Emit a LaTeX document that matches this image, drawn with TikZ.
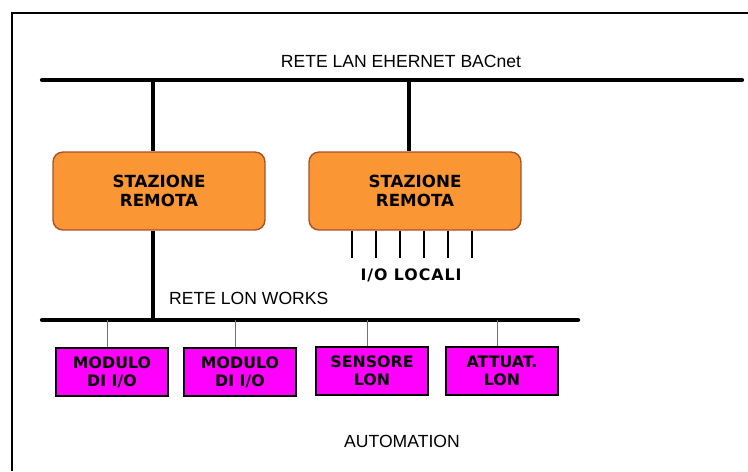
\documentclass[tikz,border=0pt]{standalone}
\usepackage{fontspec}
\setmainfont{Liberation Sans}
\newfontfamily\pixfont{DejaVu Sans}
\usetikzlibrary{calc}

\definecolor{stazorange}{RGB}{250,150,52}
\definecolor{stazedge}{RGB}{170,80,40}
\definecolor{lonmagenta}{RGB}{255,0,255}

\tikzset{
    bus/.style={line width=2.4pt, line cap=round},
    drop/.style={line width=2pt},
    lontap/.style={line width=1.1pt, color=black!55},
    iotick/.style={line width=0.8pt},
    stazione/.style={draw=stazedge, fill=stazorange, line width=0.8pt, rounded corners=0.2cm,
        minimum width=4.24cm, minimum height=1.56cm, align=center,
        font=\pixfont\bfseries\fontsize{9.5}{11}\selectfont},
    lonbox/.style={draw, fill=lonmagenta, line width=0.8pt, minimum width=2.24cm,
        minimum height=0.96cm, inner sep=1pt, align=center,
        font=\pixfont\bfseries\fontsize{9}{10.2}\selectfont},
    netlabel/.style={font=\fontsize{10}{12}\selectfont}
}

\begin{document}
\begin{tikzpicture}[x=0.02cm, y=-0.02cm]

    \useasboundingbox (0,0) rectangle (748,471);

    \draw[line width=1.6pt] (12,471) -- (12,13) -- (748,13); % cornice

    % rete LAN
    \coordinate (lanL) at (42,80);
    \coordinate (lanR) at (742,80);
    \draw[bus] (lanL) -- (lanR);
    \node (lantitle) [netlabel] at (401,61) {RETE LAN EHERNET BACnet};

    \node (sta1) [stazione] at (159,191) {STAZIONE\\REMOTA};
    \node (sta2) [stazione] at (415,191) {STAZIONE\\REMOTA};

    \coordinate (tap1) at (153,80);
    \coordinate (tap2) at (409,80);
    \draw[drop] (tap1) -- (tap1 |- sta1.north);
    \draw[drop] (tap2) -- (tap2 |- sta2.north);

    % I/O locali
    \foreach \i in {0,...,5}
        \draw[iotick] ([xshift=\i*0.48cm-1.26cm]sta2.south) -- ++(0,27);
    \node (iolocali) [font=\pixfont\bfseries\fontsize{9}{10}\selectfont\addfontfeature{LetterSpace=6}] at (411,275) {I/O LOCALI};

    % rete LON
    \coordinate (lonL) at (42,320);
    \coordinate (lonR) at (578,320);
    \coordinate (lon0) at (153,320);
    \draw[drop] (tap1 |- sta1.south) -- (lon0);
    \draw[bus] (lonL) -- (lonR);
    \node (lontitle) [netlabel, anchor=west] at (163,298) {RETE LON WORKS};

    \node (mod1) [lonbox] at (112,372) {MODULO\\DI I/O};
    \node (mod2) [lonbox] at (240,372) {MODULO\\DI I/O};
    \node (sens) [lonbox] at (372,371) {SENSORE\\LON};
    \node (attu) [lonbox] at (502,371) {ATTUAT.\\LON};

    \foreach \n in {mod1,mod2,sens,attu}
        \draw[lontap] ([xshift=-0.09cm]\n.north) -- ([xshift=-0.09cm]\n.north |- lonL);

    \node (automation) [netlabel] at (402,441) {AUTOMATION};

\end{tikzpicture}
\end{document}
